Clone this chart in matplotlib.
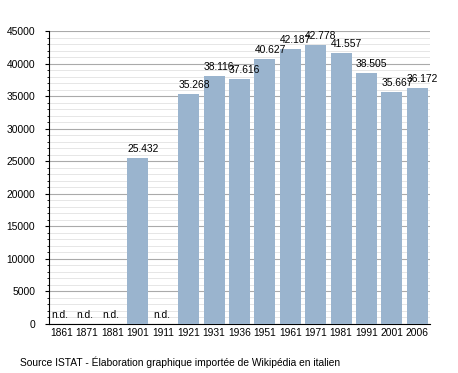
import matplotlib
matplotlib.use("Agg")
import matplotlib.pyplot as plt
from matplotlib.ticker import MultipleLocator

years = ["1861", "1871", "1881", "1901", "1911", "1921", "1931", "1936",
         "1951", "1961", "1971", "1981", "1991", "2001", "2006"]
population = [None, None, None, 25432, None, 35268, 38116, 37616,
              40627, 42187, 42778, 41557, 38505, 35667, 36172]
labels = ["n.d.", "n.d.", "n.d.", "25.432", "n.d.", "35.268", "38.116", "37.616",
          "40.627", "42.187", "42.778", "41.557", "38.505", "35.667", "36.172"]
source = "Source ISTAT - Élaboration graphique importée de Wikipédia en italien"

plt.rcParams['font.family'] = ['Liberation Sans', 'DejaVu Sans']
fs = 7.4

fig = plt.figure(figsize=(4.58, 3.73), dpi=100)
ax = fig.add_axes([49/458, 1 - 324/373, (430-49)/458, (324-31)/373])

xs = list(range(len(years)))
vals = [v if v is not None else 0 for v in population]
w = 0.82
ax.bar(xs, vals, width=w, color="#9ab4ce", zorder=3)

for x, v, lab in zip(xs, population, labels):
    y = (v if v is not None else 0) + 650
    ax.text(x - w/2, y, lab, ha="left", va="bottom", fontsize=fs, zorder=4)

ax.set_xlim(-0.5, len(years) - 0.5)
ax.set_ylim(0, 45000)
ax.yaxis.set_major_locator(MultipleLocator(5000))
ax.yaxis.set_minor_locator(MultipleLocator(1000))
ax.grid(which="major", axis="y", color="#aaaaaa", linewidth=0.8, zorder=1)
ax.grid(which="minor", axis="y", color="#e2e2e2", linewidth=0.6, zorder=0)
ax.set_xticks(xs)
ax.set_xticklabels(years, fontsize=fs)
ax.tick_params(axis="x", length=0, pad=3)
ax.tick_params(axis="y", which="major", length=3, width=0.8, labelsize=fs, pad=7)
ax.tick_params(axis="y", which="minor", length=1.5, width=0.6)
for s in ["top", "right"]:
    ax.spines[s].set_visible(False)
ax.spines["left"].set_linewidth(0.8)
ax.spines["bottom"].set_linewidth(0.8)

fig.text(20/458, 1 - 362/373, source, fontsize=fs, ha="left", va="center")

fig.savefig("out.png", dpi=100, facecolor="white")
